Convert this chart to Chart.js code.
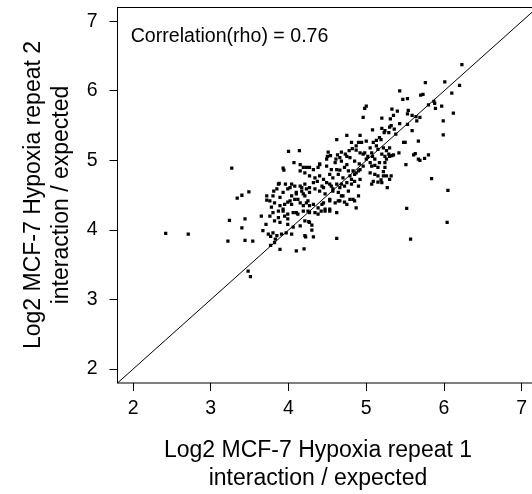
<!DOCTYPE html>
<html><head><meta charset="utf-8">
<script src="https://cdn.jsdelivr.net/npm/chart.js@4"></script>
<style>
html,body{margin:0;padding:0;overflow:hidden;background:#fff;width:532px;height:494px}
#wrap{position:absolute;left:0;top:0;width:545px;height:494px}
</style></head>
<body><div id="wrap"><canvas id="c" width="545" height="494"></canvas></div>
<script>
// Log2 MCF-7 Hypoxia repeat 1 (x) and repeat 2 (y), interaction / expected
const repeat1 = [
  2.42,2.71,3.27,3.22,3.24,3.34,3.40,3.49,3.44,3.40,
  3.44,3.54,3.48,3.51,3.65,3.67,3.71,3.72,3.72,3.74,
  3.77,3.77,3.83,3.89,3.81,3.88,3.93,3.94,4.00,4.14,
  4.07,4.15,4.10,4.20,4.22,4.32,4.26,4.30,4.30,4.62,
  4.62,4.75,4.92,4.98,5.00,4.96,5.08,5.20,5.33,5.35,
  5.43,5.47,5.53,5.54,5.59,5.70,5.73,5.76,6.01,6.23,
  6.20,6.10,6.12,5.99,5.99,5.97,5.87,5.80,5.84,6.05,
  6.04,5.52,5.57,5.51,5.61,5.67,5.75,5.80,5.67,5.59,
  5.48,5.42,5.33,5.32,5.27,5.22,5.23,5.30,5.36,5.43,
  5.53,5.64,5.88,5.89,5.40,5.31,5.53,5.69,5.65,5.20,
  5.32,5.24,5.29,5.38,5.19,5.50,5.30,5.63,5.69,4.87,
  5.00,5.09,4.81,5.13,5.17,4.96,5.02,5.05,4.79,4.68,
  4.75,4.40,5.22,5.19,5.26,5.30,
  4.51,4.50,4.54,4.63,4.68,4.73,4.78,4.82,4.87,4.90,4.94,
  4.92,4.98,5.05,5.07,5.13,5.15,5.20,5.24,5.29,5.35,5.26,
  4.49,4.60,4.66,4.75,4.85,4.91,5.00,5.08,5.11,5.17,5.24,5.26,5.30,4.61,
  4.19,4.23,4.27,4.32,4.38,4.40,4.49,4.55,4.62,4.66,4.72,4.77,4.83,4.87,4.92,4.96,5.07,5.11,5.15,5.24,
  4.15,4.21,4.27,4.34,4.40,4.45,4.53,4.57,4.64,4.70,4.79,4.85,4.92,5.05,5.11,5.15,5.22,
  4.04,4.08,4.15,4.21,4.27,4.32,4.37,4.43,4.49,4.55,4.62,4.66,4.72,4.81,4.85,4.90,5.09,5.15,5.20,5.07,
  3.93,3.99,4.04,4.10,4.17,4.21,4.27,4.34,4.40,4.47,4.53,4.57,4.64,4.70,4.77,4.83,4.90,3.89,3.80,
  3.76,3.82,3.89,3.95,4.02,4.08,4.15,4.19,4.25,4.32,4.38,4.45,4.53,4.60,4.66,4.75,4.85,
  3.76,3.80,3.87,3.93,3.99,4.06,4.12,4.19,4.27,4.34,4.42,4.53,4.62,
  3.82,3.89,3.99,3.99,4.06,4.15,4.21,3.97,4.04,3.91,3.80,
  3.85,3.87,3.96,4.02,4.10,4.17,4.19,4.23,4.45,4.53,4.57,4.68,4.75,4.81,4.90,
  3.78,3.93,3.99,4.04,4.12,4.23,4.27,4.43,4.47,4.53,4.64,4.68,4.72,4.79,
  3.87,3.95,4.10,4.25,4.38,4.47,4.87,
  3.85,4.27,4.21,3.82
];
const repeat2 = [
  3.95,3.94,4.89,3.84,4.14,4.46,4.50,4.55,4.16,4.03,
  3.85,3.84,3.41,3.33,4.20,3.99,4.08,4.49,4.43,3.94,
  3.91,3.78,3.87,3.72,4.56,4.67,4.89,4.86,5.13,5.14,
  4.97,4.94,3.70,3.73,3.90,3.90,4.12,4.07,4.00,3.88,
  5.30,5.36,5.36,5.75,5.78,5.62,5.44,5.61,5.74,5.65,
  6.00,5.88,5.89,5.72,5.65,5.94,5.95,6.12,6.13,6.38,
  6.08,5.97,5.68,5.57,5.37,5.78,5.85,5.80,4.74,4.57,
  4.11,4.31,3.87,4.94,5.08,5.02,5.03,5.08,5.28,5.43,
  5.26,5.11,5.07,4.78,4.61,5.18,5.40,5.48,5.45,5.53,
  5.52,5.63,5.82,5.75,5.71,5.60,5.67,5.62,5.57,5.46,
  5.50,5.43,5.40,5.38,5.30,5.26,5.18,5.10,5.00,5.21,
  5.28,5.26,5.26,5.29,5.33,5.09,5.06,4.97,5.04,4.99,
  4.94,4.95,4.84,4.72,4.78,4.73,
  5.12,5.06,5.07,5.08,5.12,5.09,5.14,5.17,5.15,5.26,5.26,
  5.11,5.11,5.18,5.11,5.21,5.16,5.09,5.06,5.09,5.08,5.14,
  5.02,4.97,5.04,5.06,4.99,4.95,5.02,5.06,5.02,4.97,4.97,5.02,5.06,5.02,
  4.90,4.90,4.90,4.87,4.90,4.94,4.92,4.87,4.87,4.86,4.90,4.85,4.85,4.82,4.87,4.92,4.92,4.93,4.90,4.90,
  4.85,4.82,4.78,4.75,4.78,4.73,4.80,4.75,4.80,4.75,4.78,4.80,4.73,4.82,4.80,4.78,4.78,
  4.66,4.63,4.63,4.66,4.61,4.68,4.70,4.63,4.68,4.63,4.66,4.61,4.63,4.66,4.70,4.63,4.70,4.69,4.68,4.66,
  4.54,4.59,4.49,4.52,4.56,4.49,4.54,4.59,4.56,4.52,4.44,4.56,4.54,4.49,4.56,4.44,4.49,4.47,4.49,
  4.42,4.39,4.35,4.37,4.42,4.44,4.39,4.35,4.42,4.37,4.32,4.39,4.30,4.39,4.42,4.37,4.42,
  4.20,4.25,4.27,4.27,4.23,4.25,4.23,4.27,4.25,4.25,4.27,4.27,4.25,
  4.13,4.11,4.16,4.08,4.04,4.06,4.13,3.96,3.94,3.94,3.96,
  4.59,4.66,4.66,4.61,4.54,4.61,4.52,4.59,4.61,4.66,4.59,4.66,4.68,4.73,4.85,
  4.33,4.30,4.40,4.37,4.44,4.39,4.35,4.37,4.30,4.42,4.42,4.49,4.40,4.44,
  4.18,4.20,4.25,4.27,4.23,4.27,4.32,
  3.92,4.11,3.92,3.82
];
const xTicks = [2,3,4,5,6,7];
const yTicks = [2,3,4,5,6,7];
const axisRange = [1.8, 7.2];          // both axes; also the y = x reference line
const rhoLabel = 'Correlation(rho) = 0.76';
const xTitle = ['Log2 MCF-7 Hypoxia repeat 1', 'interaction / expected'];
const yTitle = ['Log2 MCF-7 Hypoxia repeat 2', 'interaction / expected'];

const FAM = '"Liberation Sans", Arial, Helvetica, sans-serif';
const points = repeat1.map((x, i) => ({x: x, y: repeat2[i]}));
const diagonal = axisRange.map(v => ({x: v, y: v}));

const boxPlugin = {
  id: 'box',
  afterDatasetsDraw(chart) {
    const {ctx, chartArea: a} = chart;
    ctx.save();
    ctx.strokeStyle = '#000';
    ctx.lineWidth = 1;
    ctx.strokeRect(a.left, a.top, a.right - a.left, a.bottom - a.top);
    ctx.restore();
  }
};
const textPlugin = {
  id: 'texts',
  afterDraw(chart) {
    const ctx = chart.ctx;
    ctx.save();
    ctx.fillStyle = '#000';
    ctx.font = '19.6px ' + FAM;
    ctx.textAlign = 'left';
    ctx.textBaseline = 'alphabetic';
    ctx.fillText(rhoLabel, 130.7, 41.5);
    ctx.font = '23px ' + FAM;
    ctx.textAlign = 'center';
    ctx.fillText(xTitle[0], 318, 457);
    ctx.fillText(xTitle[1], 318, 485);
    ctx.translate(0, 195);
    ctx.rotate(-Math.PI / 2);
    ctx.fillText(yTitle[0], 0, 40);
    ctx.fillText(yTitle[1], 0, 68);
    ctx.restore();
  }
};

const tickFont = {family: FAM, size: 19.5};
new Chart(document.getElementById('c'), {
  type: 'scatter',
  data: {
    datasets: [
      {data: points, pointStyle: 'rect', pointRadius: 2.3, pointHoverRadius: 2.3,
       backgroundColor: '#000', borderWidth: 0},
      {type: 'line', data: diagonal, showLine: true, borderColor: '#000', borderWidth: 1,
       pointRadius: 0, fill: false, tension: 0}
    ]
  },
  options: {
    responsive: false,
    animation: false,
    events: [],
    layout: {padding: {left: 0, top: 7.5, right: 7.7, bottom: 0}},
    plugins: {legend: {display: false}, tooltip: {enabled: false}},
    scales: {
      x: {
        type: 'linear', min: axisRange[0], max: axisRange[1],
        afterBuildTicks(s) { s.ticks = xTicks.map(v => ({value: v})); },
        afterFit(s) { s.height = 111; s.paddingLeft = 0; s.paddingRight = 0; },
        grid: {drawOnChartArea: false, drawTicks: true, tickLength: 8, color: '#000', lineWidth: 1},
        border: {display: false},
        ticks: {color: '#000', font: tickFont, padding: 6, maxRotation: 0, autoSkip: false,
                callback: v => String(v)}
      },
      y: {
        type: 'linear', min: axisRange[0], max: axisRange[1],
        afterBuildTicks(s) { s.ticks = yTicks.map(v => ({value: v})); },
        afterFit(s) { s.width = 117.5; s.paddingTop = 0; s.paddingBottom = 0; },
        grid: {drawOnChartArea: false, drawTicks: true, tickLength: 8, color: '#000', lineWidth: 1},
        border: {display: false},
        ticks: {color: '#000', font: tickFont, padding: 12, autoSkip: false,
                callback: v => String(v)}
      }
    }
  },
  plugins: [boxPlugin, textPlugin]
});
</script>
</body></html>
